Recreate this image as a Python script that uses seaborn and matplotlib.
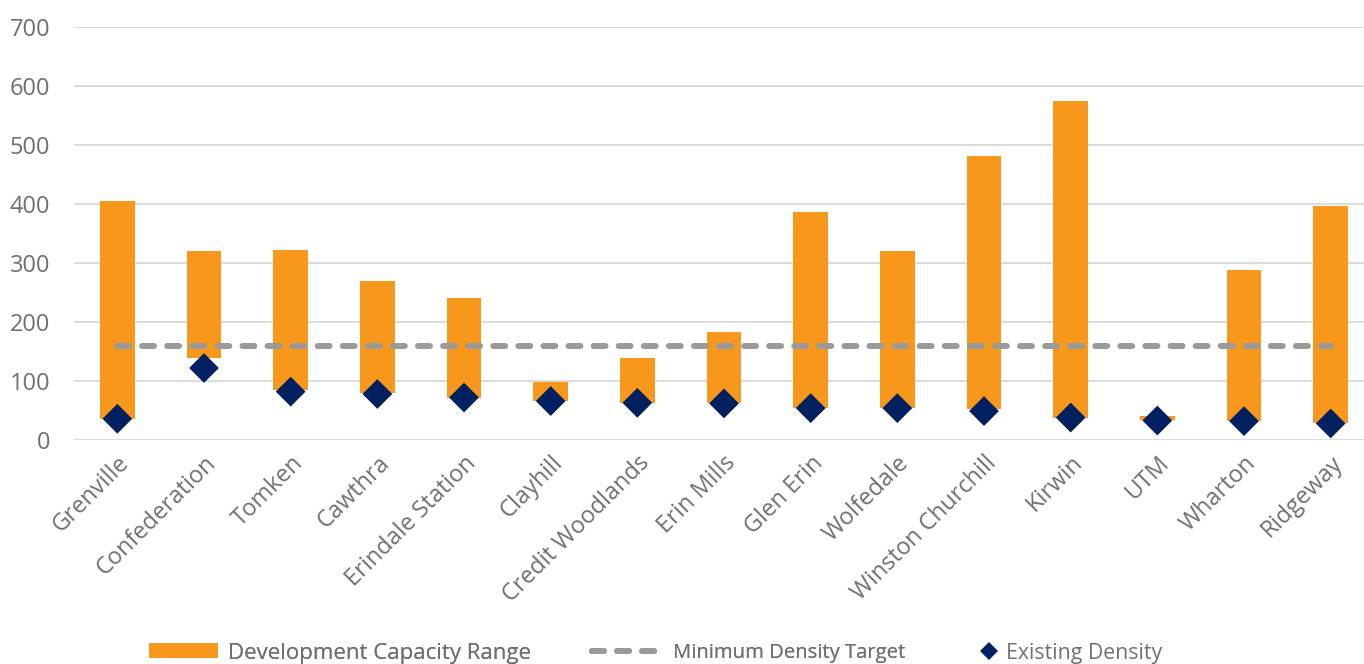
import matplotlib
matplotlib.use("Agg")
import matplotlib.pyplot as plt
import seaborn as sns
import pandas as pd
import numpy as np
from matplotlib.patches import Patch
from matplotlib.lines import Line2D

categories = ["Grenville", "Confederation", "Tomken", "Cawthra", "Erindale Station",
              "Clayhill", "Credit Woodlands", "Erin Mills", "Glen Erin", "Wolfedale",
              "Winston Churchill", "Kirwin", "UTM", "Wharton", "Ridgeway"]
capacity_low = [36, 139, 85, 79, 72, 66, 63, 62, 54, 55, 52, 38, 34, 33, 28]
capacity_high = [405, 320, 322, 269, 240, 98, 139, 183, 386, 320, 481, 574, 40, 288, 397]
existing_density = [36, 122, 82, 78, 72, 66, 63, 62, 54, 54, 49, 38, 33, 32, 28]
min_density_target = [160] * 15

sns.set_theme(style="white")
plt.rcParams["font.family"] = ["Open Sans", "DejaVu Sans"]

ORANGE = "#F7981D"
NAVY = "#002060"
GRAY_LINE = "#9A9A9A"
TXT = "#707070"
DASH = (0, (2.0, 2.2))
LW = 4.3

df = pd.DataFrame({"cat": categories, "low": capacity_low, "high": capacity_high,
                   "existing": existing_density, "target": min_density_target})

fig = plt.figure(figsize=(13.64, 6.64), dpi=100)
ax = fig.add_axes([74 / 1364, 1 - 440 / 664, 1300 / 1364, 413 / 664])

sns.barplot(data=df, x="cat", y="high", color=ORANGE, width=0.4, saturation=1,
            ax=ax, zorder=2)
for p, lo, hi in zip(ax.patches, capacity_low, capacity_high):
    p.set_y(lo)
    p.set_height(hi - lo)
    p.set_edgecolor("none")

sns.lineplot(data=df, x="cat", y="target", color=GRAY_LINE, linewidth=LW,
             dashes=False, ax=ax, zorder=3, sort=False)
ax.lines[-1].set_linestyle(DASH)
ax.lines[-1].set_dash_capstyle("round")

sns.scatterplot(data=df, x="cat", y="existing", marker="D", s=230, color=NAVY,
                edgecolor="none", ax=ax, zorder=4)

ax.set_xlim(-0.5, 14.5)
ax.set_ylim(0, 700)
ax.set_yticks(range(0, 701, 100))
ax.grid(axis="y", color="#D9D9D9", linewidth=1.3, zorder=0)
ax.set_axisbelow(True)
for s in ax.spines.values():
    s.set_visible(False)
ax.set_xlabel("")
ax.set_ylabel("")
ax.tick_params(axis="y", length=0, pad=17, labelsize=17, labelcolor=TXT)
ax.tick_params(axis="x", length=0, pad=8, labelsize=17, labelcolor=TXT)
plt.setp(ax.get_xticklabels(), rotation=45, ha="right", rotation_mode="anchor")

h1 = Patch(facecolor=ORANGE, edgecolor="none")
h2 = Line2D([], [], color=GRAY_LINE, linewidth=LW, linestyle=DASH,
            dash_capstyle="round")
h3 = Line2D([], [], color=NAVY, marker="D", linestyle="none", markersize=9,
            markeredgewidth=0)

ycen = 1 - 653 / 664
common = dict(loc="center left", frameon=False, borderpad=0,
              borderaxespad=0, labelcolor=TXT)
leg1 = fig.legend([h1], ["Development Capacity Range"], fontsize=16,
                  bbox_to_anchor=(149 / 1364, ycen), handlelength=3.1,
                  handleheight=0.65, handletextpad=0.45, **common)
leg2 = fig.legend([h2], ["Minimum Density Target"], fontsize=14.6,
                  bbox_to_anchor=(592 / 1364, ycen), handlelength=3.4,
                  handletextpad=0.6, **common)
leg3 = fig.legend([h3], ["Existing Density"], fontsize=15.3,
                  bbox_to_anchor=(979 / 1364, ycen), handlelength=0.9,
                  handletextpad=0.35, **common)
fig.add_artist(leg1)
fig.add_artist(leg2)

fig.savefig("out.png", dpi=100)
